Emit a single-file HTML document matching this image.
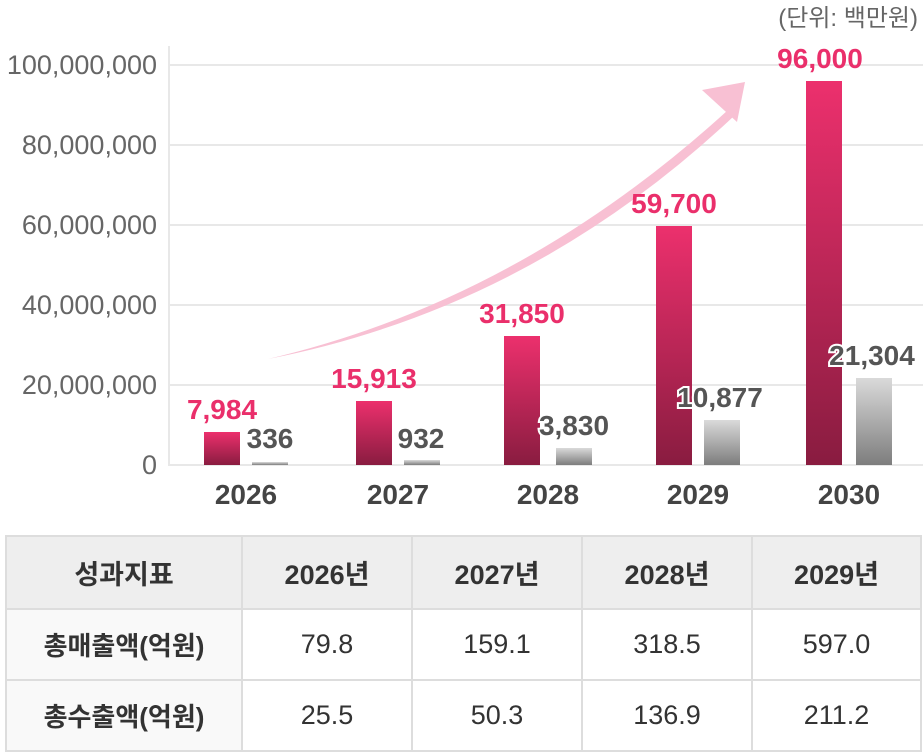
<!DOCTYPE html>
<html><head><meta charset="utf-8"><style>
body{margin:0;background:#fff;width:923px;height:754px;overflow:hidden;font-family:"Liberation Sans","Noto Sans CJK KR",sans-serif}
table{position:absolute;left:5px;top:535px;border-collapse:collapse;width:917px}
td{border:2px solid #ddd;text-align:center;font-size:27px;color:#333;height:69px;padding:0}
tr:first-child td{background:#eee;font-weight:bold;height:71px;font-size:27px}
td:first-child{background:#f9f9f9;font-weight:bold;font-size:26px}
tr:first-child td:first-child{background:#eee}
</style></head><body>
<svg width="923" height="535" style="position:absolute;left:0;top:0">
<defs>
<linearGradient id="m" x1="0" y1="0" x2="0" y2="1"><stop offset="0" stop-color="#ec306d"/><stop offset="1" stop-color="#891c40"/></linearGradient>
<linearGradient id="g" x1="0" y1="0" x2="0" y2="1"><stop offset="0" stop-color="#dadada"/><stop offset="1" stop-color="#7d7d7d"/></linearGradient>
</defs>
<g stroke="#e8e8e8" stroke-width="2">
<line x1="169" y1="65" x2="923" y2="65"/><line x1="169" y1="145" x2="923" y2="145"/><line x1="169" y1="225" x2="923" y2="225"/><line x1="169" y1="305" x2="923" y2="305"/><line x1="169" y1="385" x2="923" y2="385"/><line x1="169" y1="465" x2="923" y2="465"/>
<line x1="169" y1="46" x2="169" y2="466"/>
</g>
<g font-size="27" fill="#666" text-anchor="end">
<text x="157" y="74">100,000,000</text><text x="157" y="154">80,000,000</text><text x="157" y="234">60,000,000</text><text x="157" y="314">40,000,000</text><text x="157" y="394">20,000,000</text><text x="157" y="474">0</text>
</g>
<text x="918" y="26" font-size="24" fill="#666" text-anchor="end">(단위: 백만원)</text>
<path d="M268,359 Q520,300 728,110 L734,116 Q530,308 268,359 Z" fill="#f8c0d3"/>
<polygon points="745,82 702,90 737,122" fill="#f8c0d3"/>
<rect x="204" y="432" width="36" height="33" fill="url(#m)"/>
<rect x="252" y="462" width="36" height="3" fill="url(#g)"/>
<rect x="356" y="401" width="36" height="64" fill="url(#m)"/>
<rect x="404" y="460" width="36" height="5" fill="url(#g)"/>
<rect x="504" y="336" width="36" height="129" fill="url(#m)"/>
<rect x="556" y="448" width="36" height="17" fill="url(#g)"/>
<rect x="656" y="226" width="36" height="239" fill="url(#m)"/>
<rect x="704" y="420" width="36" height="45" fill="url(#g)"/>
<rect x="806" y="81" width="36" height="384" fill="url(#m)"/>
<rect x="856" y="378" width="36" height="87" fill="url(#g)"/>
<g font-size="28" font-weight="bold" fill="#ea2f6b" text-anchor="middle">
<text x="222" y="419">7,984</text><text x="374" y="388">15,913</text><text x="522" y="323">31,850</text><text x="674" y="213">59,700</text><text x="820" y="68">96,000</text>
</g>
<g font-size="28" font-weight="bold" fill="#555" text-anchor="middle" stroke="#fff" stroke-width="4" paint-order="stroke">
<text x="270" y="448">336</text><text x="421" y="448">932</text><text x="574" y="435">3,830</text><text x="720" y="407">10,877</text><text x="872" y="365">21,304</text>
</g>
<g font-size="28" font-weight="bold" fill="#444" text-anchor="middle">
<text x="246" y="504">2026</text><text x="398" y="504">2027</text><text x="548" y="504">2028</text><text x="698" y="504">2029</text><text x="849" y="504">2030</text>
</g>
</svg>
<table>
<tr><td style="width:234px">성과지표</td><td style="width:168px">2026년</td><td style="width:168px">2027년</td><td style="width:168px">2028년</td><td>2029년</td></tr>
<tr><td>총매출액(억원)</td><td>79.8</td><td>159.1</td><td>318.5</td><td>597.0</td></tr>
<tr><td>총수출액(억원)</td><td>25.5</td><td>50.3</td><td>136.9</td><td>211.2</td></tr>
</table>
</body></html>
